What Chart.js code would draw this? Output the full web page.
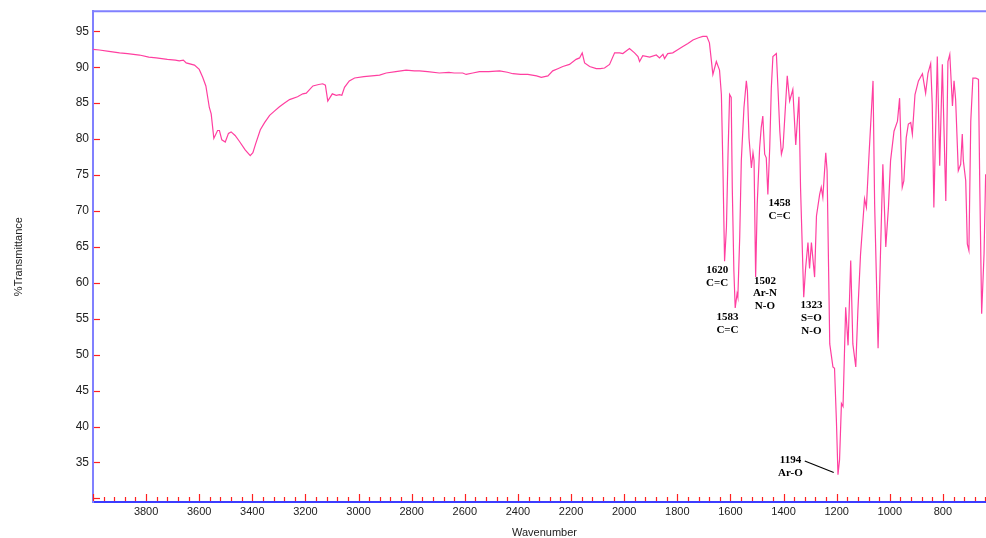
<!DOCTYPE html>
<html>
<head>
<meta charset="utf-8">
<script src="https://cdn.jsdelivr.net/npm/chart.js@4/dist/chart.umd.min.js"></script>
<style>
  html, body { margin: 0; padding: 0; background: #fff; overflow: hidden; }
  #wrap { width: 1000px; height: 538px; }
</style>
</head>
<body>
<div id="wrap"><canvas id="ir" width="1000" height="538"></canvas></div>
<script>
// spectrum (cm-1, %T)
const wavenumber = [
  4000, 3976, 3940, 3900, 3870, 3825, 3790, 3762, 3720, 3690, 3675, 3660, 3649, 3618, 3600,
  3587, 3575, 3562, 3555, 3545, 3531, 3524, 3515, 3502, 3490, 3480, 3465, 3449, 3427, 3408,
  3398, 3388, 3370, 3354, 3335, 3317, 3298, 3280, 3260, 3230, 3210, 3197, 3172, 3150, 3135,
  3125, 3116, 3099, 3084, 3072, 3063, 3053, 3035, 3015, 2980, 2950, 2921, 2896, 2860, 2821,
  2790, 2771, 2740, 2696, 2660, 2640, 2608, 2595, 2570, 2545, 2510, 2469, 2440, 2419, 2390,
  2363, 2330, 2312, 2287, 2269, 2250, 2231, 2206, 2181, 2168, 2158, 2149, 2130, 2105, 2090,
  2074, 2055, 2036, 2017, 2005, 1980, 1961, 1948, 1942, 1930, 1904, 1879, 1867, 1854, 1848,
  1836, 1817, 1800, 1779, 1760, 1741, 1720, 1704, 1689, 1679, 1666, 1653, 1641, 1634, 1628,
  1622, 1615, 1609, 1603, 1597, 1593, 1587, 1582, 1575, 1572, 1565, 1559, 1549, 1540, 1536,
  1530, 1521, 1515, 1511, 1505, 1499, 1490, 1484, 1478, 1471, 1465, 1459, 1452, 1446, 1440,
  1427, 1421, 1414, 1408, 1402, 1386, 1377, 1365, 1354, 1342, 1336, 1324, 1317, 1308, 1302,
  1295, 1283, 1276, 1264, 1258, 1252, 1241, 1236, 1226, 1214, 1208, 1201, 1195, 1189, 1182,
  1176, 1166, 1157, 1147, 1139, 1128, 1120, 1110, 1101, 1095, 1088, 1078, 1063, 1057, 1044,
  1035, 1026, 1015, 1005, 997, 984, 971, 963, 953, 947, 938, 930, 921, 915, 905,
  892, 877, 865, 856, 846, 840, 834, 821, 812, 802, 789, 781, 774, 764, 758,
  752, 742, 733, 727, 723, 714, 708, 702, 695, 687, 676, 666, 661, 654, 645, 639
];
const transmittance = [
  92.5, 92.4, 92.2, 92.0, 91.9, 91.7, 91.4, 91.3, 91.1, 91.0, 90.9, 91.0, 90.6, 90.3, 89.7,
  88.6, 87.4, 84.4, 83.5, 80.1, 81.2, 81.2, 79.9, 79.6, 80.8, 81.0, 80.5, 79.7, 78.5, 77.7,
  78.1, 79.3, 81.3, 82.3, 83.3, 83.9, 84.5, 85.0, 85.5, 85.9, 86.3, 86.4, 87.4, 87.6, 87.7,
  87.5, 85.3, 86.3, 86.1, 86.2, 86.1, 87.2, 88.1, 88.5, 88.7, 88.8, 88.9, 89.2, 89.4, 89.6,
  89.5, 89.5, 89.4, 89.2, 89.3, 89.2, 89.2, 89.0, 89.2, 89.4, 89.4, 89.5, 89.3, 89.1, 89.0,
  89.0, 88.8, 88.6, 88.8, 89.5, 89.8, 90.1, 90.4, 91.1, 91.3, 92.0, 90.6, 90.1, 89.8, 89.8,
  89.9, 90.4, 92.0, 92.0, 91.9, 92.6, 92.0, 91.5, 90.8, 91.6, 91.4, 91.7, 91.3, 91.8, 91.2,
  91.9, 92.0, 92.4, 92.9, 93.3, 93.8, 94.1, 94.3, 94.3, 93.4, 89.0, 90.8, 89.6, 86.2, 75.6,
  63.0, 67.7, 77.9, 86.2, 85.8, 73.3, 61.7, 56.5, 58.5, 58.0, 66.3, 77.0, 84.4, 88.1, 86.7,
  80.2, 76.0, 78.1, 77.0, 60.8, 71.0, 78.8, 81.6, 83.2, 77.9, 77.4, 72.3, 78.8, 87.1, 91.5,
  91.9, 87.1, 81.1, 77.9, 78.8, 88.8, 85.3, 86.9, 79.2, 85.9, 73.3, 58.0, 62.0, 65.6, 62.0,
  65.6, 60.8, 69.3, 72.3, 73.3, 71.9, 78.1, 75.6, 51.5, 48.3, 48.1, 40.9, 33.3, 35.4, 43.2,
  42.8, 56.6, 51.3, 63.1, 51.5, 48.3, 56.2, 64.0, 68.6, 71.7, 70.5, 77.9, 88.1, 71.0, 50.9,
  64.0, 76.5, 65.0, 70.5, 77.0, 81.1, 82.5, 85.7, 73.3, 74.2, 80.2, 82.1, 82.3, 80.7, 86.2,
  88.1, 89.1, 86.4, 89.2, 90.5, 84.8, 70.5, 91.5, 76.3, 90.4, 71.4, 90.8, 91.8, 84.6, 88.1,
  85.5, 75.6, 76.5, 80.7, 77.0, 74.2, 65.4, 64.5, 82.5, 88.5, 88.5, 88.3, 73.3, 55.7, 64.0, 75.1
];

// axis ticks
const xTickLabels = [3800, 3600, 3400, 3200, 3000, 2800, 2600, 2400, 2200, 2000, 1800, 1600, 1400, 1200, 1000, 800];
const yTickLabels = [35, 40, 45, 50, 55, 60, 65, 70, 75, 80, 85, 90, 95];

// peak assignments: label text, anchored in data space
const peakNames = ['1620', '1583', '1502', '1458', '1323', '1194'];
const peakGroups = [['C=C'], ['C=C'], ['Ar-N', 'N-O'], ['C=C'], ['S=O', 'N-O'], ['Ar-O']];
const peakLabelWn = [1650, 1611, 1470, 1415, 1295, 1374];
const peakLabelT = [61.75, 55.2, 60.3, 71.1, 56.9, 35.3];
// leader line for 1194
const leaderWn = [1320, 1211];
const leaderT = [35.2, 33.6];

const points = wavenumber.map((w, i) => ({ x: w, y: transmittance[i] }));

const frame = {
  id: 'frame',
  afterDraw(chart) {
    const { ctx, chartArea: a, scales: { x, y } } = chart;
    ctx.save();
    // top border
    ctx.strokeStyle = '#8080ff';
    ctx.lineWidth = 2;
    ctx.beginPath();
    ctx.moveTo(a.left, a.top);
    ctx.lineTo(a.right + 10, a.top);
    ctx.stroke();
    // inward tick marks
    ctx.strokeStyle = '#ff2020';
    ctx.lineWidth = 1.2;
    for (let v = 30; v <= 95; v += 5) {
      const py = Math.round(y.getPixelForValue(v)) + 0.5;
      ctx.beginPath();
      ctx.moveTo(a.left + 1, py);
      ctx.lineTo(a.left + 7, py);
      ctx.stroke();
    }
    for (let v = 600; v <= 4000; v += 40) {
      const px = Math.round(x.getPixelForValue(v)) + 0.5;
      const len = v % 200 === 0 ? 7 : 4;
      ctx.beginPath();
      ctx.moveTo(px, a.bottom - 1);
      ctx.lineTo(px, a.bottom - 1 - len);
      ctx.stroke();
    }
    // peak labels
    ctx.fillStyle = '#000';
    ctx.font = 'bold 11px "Liberation Serif", "Times New Roman", serif';
    ctx.textAlign = 'center';
    ctx.textBaseline = 'middle';
    peakNames.forEach((name, i) => {
      const px = x.getPixelForValue(peakLabelWn[i]);
      const py = y.getPixelForValue(peakLabelT[i]);
      [name, ...peakGroups[i]].forEach((line, k) => ctx.fillText(line, px, py + k * 12.8));
    });
    ctx.strokeStyle = '#000';
    ctx.lineWidth = 1.2;
    ctx.beginPath();
    ctx.moveTo(x.getPixelForValue(leaderWn[0]), y.getPixelForValue(leaderT[0]));
    ctx.lineTo(x.getPixelForValue(leaderWn[1]), y.getPixelForValue(leaderT[1]));
    ctx.stroke();
    ctx.restore();
  }
};

const sans = '"Liberation Sans", Arial, sans-serif';

new Chart(document.getElementById('ir'), {
  type: 'line',
  data: {
    datasets: [{
      data: points,
      borderColor: '#ff3fa0',
      borderWidth: 1.2,
      pointRadius: 0,
      tension: 0,
      fill: false
    }]
  },
  options: {
    responsive: false,
    animation: false,
    layout: { padding: { top: 10, right: 4, left: 0, bottom: 0 } },
    plugins: { legend: { display: false }, tooltip: { enabled: false } },
    scales: {
      x: {
        type: 'linear',
        reverse: true,
        min: 600,
        max: 4000,
        afterBuildTicks: s => { s.ticks = xTickLabels.map(v => ({ value: v })); },
        afterFit: s => { s.height = 36; },
        grid: { display: false, drawTicks: false },
        border: { display: true, color: '#3c3cff', width: 2 },
        ticks: {
          padding: 3,
          color: '#222',
          maxRotation: 0,
          autoSkip: false,
          callback: v => String(v),
          font: { family: sans, size: 11 }
        },
        title: {
          display: true,
          text: 'Wavenumber',
          color: '#222',
          padding: { top: 0, bottom: 0 },
          font: { family: sans, size: 11, lineHeight: 1 }
        }
      },
      y: {
        min: 29.5,
        max: 97.8,
        afterBuildTicks: s => { s.ticks = yTickLabels.map(v => ({ value: v })); },
        afterFit: s => { s.width = 93; },
        grid: { display: false, drawTicks: false },
        border: { display: true, color: '#8080ff', width: 2 },
        ticks: {
          padding: 4,
          color: '#222',
          autoSkip: false,
          callback: v => String(v),
          font: { family: sans, size: 12 }
        },
        title: {
          display: true,
          text: '%Transmittance',
          color: '#222',
          padding: { top: 13, bottom: 0 },
          font: { family: sans, size: 11, lineHeight: 1 }
        }
      }
    }
  },
  plugins: [frame]
});
</script>
</body>
</html>
